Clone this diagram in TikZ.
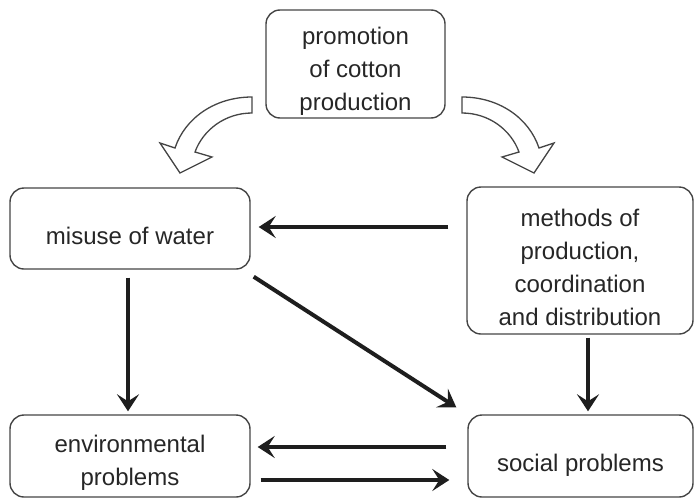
\documentclass[tikz,border=0pt]{standalone}
\usepackage{fontspec}
\setmainfont{Liberation Sans}
\usetikzlibrary{arrows.meta,calc}
\definecolor{boxline}{HTML}{454545}
\definecolor{inkdark}{HTML}{1E1E1E}
\definecolor{txt}{HTML}{262626}
\begin{document}
\begin{tikzpicture}[x=1pt,y=-1pt,
  box/.style={draw=boxline, line width=1.4pt, rounded corners=14pt, inner sep=0pt},
  lbl/.style={align=center, text=txt, font=\fontsize{24}{33}\selectfont,
    inner sep=0pt, yshift=-7pt},
  conn/.style={draw=inkdark, line width=4pt,
    -{Stealth[length=17pt,width=22pt,inset=7pt]}},
  hollow/.style={draw=boxline, line width=1.3pt, fill=white, line join=miter}]
\useasboundingbox (0,0) rectangle (695,498);

% boxes, each with its text set at the centre
\node[box, minimum width=179pt, minimum height=108pt,
  label={[lbl]center:promotion\\of cotton\\production}] (promo) at (355.5,64) {};
\node[box, minimum width=240pt, minimum height=81pt,
  label={[lbl]center:misuse of water}] (misuse) at (130,228.5) {};
\node[box, minimum width=226pt, minimum height=147pt,
  label={[lbl]center:methods of\\production,\\coordination\\and distribution}]
  (methods) at (580,260.5) {};
\node[box, minimum width=240pt, minimum height=82pt,
  label={[lbl]center:environmental\\problems}] (env) at (130,456) {};
\node[box, minimum width=225pt, minimum height=82pt,
  label={[lbl,yshift=-2pt]center:social problems}] (social) at (580.5,456) {};

% hollow curved arrows leaving the top box
\draw[hollow] (252,97) .. controls (215,97) and (185,118) .. (175,148)
  -- (160,143) -- (180,173) -- (212,157) -- (195,152)
  .. controls (203,130) and (225,113) .. (252,113) -- cycle;
\draw[hollow] (462,97) .. controls (499,97) and (529,118) .. (539,148)
  -- (554,143) -- (534,173) -- (502,157) -- (519,152)
  .. controls (511,130) and (489,113) .. (462,113) -- cycle;

% connectors
\draw[conn] ($(methods.west |- misuse.east)+(-18,-1.5)$) -- ($(misuse.east)+(8,-1.5)$);
\draw[conn] ($(misuse.south)+(-2,8)$) -- ($(misuse.south |- env.north)+(-2,-3)$);
\draw[conn] ($(methods.south)+(8,3)$) -- ($(methods.south |- social.north)+(8,-3)$);
\draw[conn] ($(misuse.south east)+(3,7)$) -- ($(social.north west)+(-11,-7)$);
\draw[conn] ($(social.west)+(-21,-9)$) -- ($(env.east)+(7,-9)$);
\draw[conn] ($(env.east)+(10,24)$) -- ($(social.west)+(-18,24)$);
\end{tikzpicture}
\end{document}
